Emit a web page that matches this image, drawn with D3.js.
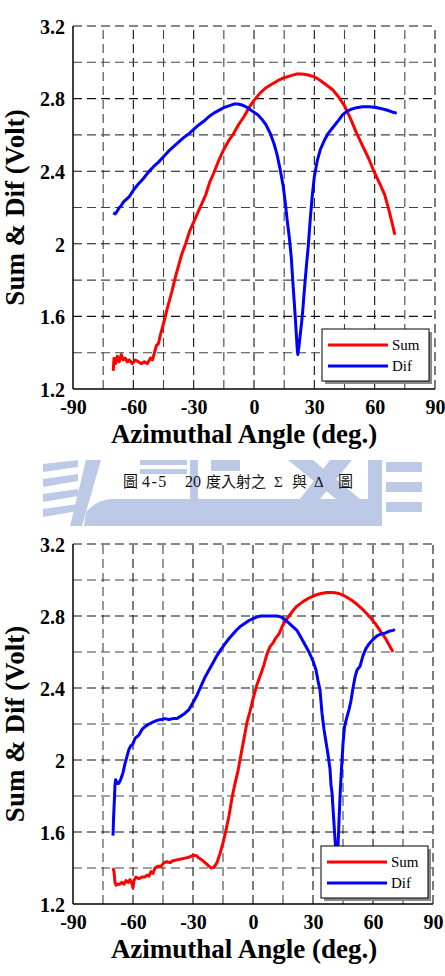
<!DOCTYPE html>
<html>
<head>
  <meta charset="utf-8">
  <title>Sum & Dif vs Azimuthal Angle</title>
  <script src="https://d3js.org/d3.v7.min.js"></script>
  <style>
    body { margin: 0; background: #fff; }
    svg { display: block; }
    .tick-label { font-family: "Liberation Serif", "Times New Roman", serif; font-weight: bold; font-size: 20px; fill: #000; }
    .axis-title { font-family: "Liberation Serif", "Times New Roman", serif; font-weight: bold; font-size: 27px; fill: #000; }
    .legend-text { font-family: "Liberation Serif", "Times New Roman", serif; font-size: 15px; fill: #000; }
    .caption { font-family: "Liberation Serif", "Noto Sans CJK TC", serif; font-size: 15px; fill: #111; }
  </style>
</head>
<body>
<div id="chart"></div>
<script>
  // axis ticks and grid positions
  var angleTicks = [-90, -60, -30, 0, 30, 60, 90];
  var angleMinor = [-75, -45, -15, 15, 45, 75];
  var voltTicks = [1.2, 1.6, 2, 2.4, 2.8, 3.2];
  var voltMinor = [1.4, 1.8, 2.2, 2.6, 3.0];
  var seriesNames = ["Sum", "Dif"];
  var seriesColors = ["#ff0000", "#0000ff"];
  var captionParts = ["圖", "4-5", "20", "度入射之", "Σ", "與", "Δ", "圖"];

  // upper chart (20 deg incidence), [angle, volt]
  var sumA = [[-70,1.30],[-69.6,1.37],[-68.8,1.34],[-68,1.38],[-67,1.35],[-66,1.39],[-65,1.36],[-64,1.37],[-63,1.35],
    [-62,1.36],[-60.5,1.34],[-59,1.36],[-57.5,1.35],[-56,1.34],[-54.5,1.35],[-53,1.34],[-51.5,1.37],[-50.5,1.36],
    [-49.5,1.40],[-48.5,1.44],[-47.5,1.45],[-46.5,1.50],[-45,1.56],[-43,1.65],[-41,1.73],[-39,1.82],[-37.5,1.88],
    [-36,1.94],[-34,2.00],[-32,2.07],[-30,2.12],[-28,2.17],[-26,2.22],[-24,2.27],[-22,2.34],[-20,2.39],[-17.5,2.46],
    [-15,2.52],[-12.5,2.57],[-10,2.61],[-7.5,2.66],[-5,2.70],[-2.5,2.75],[0,2.79],[3,2.83],[6,2.86],[9,2.88],
    [12,2.90],[15,2.915],[18,2.925],[21,2.935],[24,2.935],[27,2.93],[30,2.92],[33,2.90],[36,2.875],[39,2.85],
    [42,2.81],[45,2.76],[48,2.69],[51,2.61],[54,2.54],[57,2.47],[60,2.39],[63,2.32],[65,2.27],[67,2.19],[69,2.10],[70,2.05]];
  var difA = [[-70,2.17],[-69,2.165],[-68,2.18],[-67,2.20],[-66,2.21],[-65,2.23],[-63.5,2.245],[-62,2.26],[-60,2.295],
    [-57.5,2.33],[-55,2.36],[-52.5,2.395],[-50,2.425],[-47.5,2.45],[-45,2.48],[-42.5,2.51],[-40,2.535],[-37.5,2.56],
    [-35,2.585],[-32.5,2.605],[-30,2.63],[-27.5,2.655],[-25,2.675],[-22.5,2.70],[-20,2.72],[-17.5,2.735],[-15,2.75],
    [-12.5,2.76],[-10,2.77],[-8,2.77],[-6,2.765],[-4,2.755],[-2,2.74],[0,2.725],[2,2.71],[4,2.685],[6,2.655],[8,2.61],
    [10,2.55],[11.5,2.49],[13,2.41],[14.5,2.32],[15.5,2.23],[16.5,2.13],[17.5,2.04],[18.5,1.93],[19.5,1.76],[20.5,1.60],
    [21.5,1.42],[21.8,1.39],[22.3,1.43],[23,1.50],[23.7,1.57],[24.3,1.64],[25,1.74],[26,1.87],[27,1.99],[28,2.14],
    [29,2.27],[30,2.37],[31.5,2.46],[33,2.52],[35,2.57],[37,2.61],[39.5,2.645],[42,2.68],[44,2.71],[46,2.728],[48,2.74],
    [51,2.75],[54,2.755],[57,2.755],[60,2.752],[63,2.745],[66,2.737],[69,2.725],[71,2.72]];

  // lower chart
  var sumB = [[-70,1.40],[-69.5,1.38],[-69,1.32],[-68.5,1.305],[-67.5,1.31],[-66.5,1.31],[-65.5,1.32],[-64.5,1.31],
    [-63.5,1.33],[-62.5,1.32],[-61.5,1.335],[-60.5,1.31],[-60,1.29],[-59.5,1.33],[-58.5,1.35],[-57,1.34],[-55.5,1.35],
    [-54,1.35],[-53,1.36],[-52,1.355],[-51,1.38],[-50,1.37],[-49,1.40],[-47.5,1.41],[-46,1.41],[-44.5,1.43],[-43,1.435],
    [-41.5,1.43],[-40,1.44],[-38,1.445],[-36,1.45],[-34,1.455],[-32,1.46],[-30,1.47],[-28.5,1.47],[-27,1.455],[-25,1.44],
    [-23,1.42],[-21,1.40],[-19.5,1.405],[-18,1.43],[-16.5,1.48],[-15,1.54],[-13.5,1.61],[-12,1.69],[-10.5,1.79],[-9,1.87],
    [-7.5,1.94],[-6,2.03],[-4.5,2.12],[-3,2.21],[-1.5,2.27],[0,2.34],[2,2.42],[4,2.48],[5.5,2.53],[7,2.59],[8.5,2.63],
    [10,2.65],[11.5,2.68],[13,2.70],[14.5,2.74],[16,2.77],[18,2.80],[20,2.83],[22,2.855],[25,2.88],[28,2.90],[31,2.915],
    [34,2.925],[37,2.93],[40,2.93],[43,2.925],[46,2.91],[49,2.89],[52,2.865],[55,2.835],[58,2.80],[61,2.76],[64,2.71],
    [66,2.68],[68,2.64],[70,2.60]];
  var difB = [[-70,1.58],[-69.7,1.68],[-69.3,1.78],[-69,1.86],[-68.7,1.89],[-68,1.87],[-67.2,1.87],[-66.2,1.89],[-65,1.93],
    [-64,1.98],[-63,2.02],[-62,2.06],[-61,2.08],[-60,2.09],[-59,2.12],[-58,2.13],[-57,2.14],[-55.5,2.17],[-54,2.185],
    [-52,2.20],[-50,2.21],[-48,2.22],[-46,2.225],[-44,2.23],[-42,2.225],[-40,2.23],[-38,2.23],[-36,2.245],[-34,2.26],
    [-32,2.28],[-30,2.32],[-28,2.36],[-26,2.41],[-24,2.46],[-22,2.50],[-20,2.54],[-18,2.58],[-16,2.615],[-14,2.645],
    [-12,2.675],[-10,2.70],[-8,2.725],[-6,2.745],[-4,2.76],[-2,2.775],[0,2.785],[2,2.795],[4,2.80],[6,2.80],[8,2.80],
    [10,2.80],[12,2.80],[14,2.795],[16,2.78],[18,2.76],[20,2.74],[22,2.72],[24,2.68],[26,2.64],[28,2.60],[30,2.55],
    [31.5,2.50],[32.5,2.44],[33.5,2.39],[34.5,2.26],[35.5,2.17],[36.5,2.10],[37.5,2.03],[38.5,1.95],[39,1.86],[39.5,1.82],
    [40.3,1.68],[41,1.56],[41.8,1.44],[42.5,1.52],[43,1.66],[43.6,1.82],[44.3,1.96],[45,2.09],[45.7,2.18],[46.3,2.21],
    [47,2.24],[48,2.28],[49,2.33],[50,2.40],[51,2.46],[52,2.50],[53.5,2.52],[55,2.58],[56.5,2.62],[58,2.645],[60,2.67],
    [62,2.69],[64,2.70],[66,2.705],[68,2.715],[70,2.72],[71,2.725]];

  var W = 445, H = 976;
  var svg = d3.select("#chart").append("svg").attr("width", W).attr("height", H);

  // faint school-logo watermark behind the caption
  var wm = svg.append("g").attr("fill", "#bccae8");
  var wmShapes = [
    "M43,464 L78,460 L78,467 L43,472 Z",
    "M43,479 L78,474 L78,481 L43,487 Z",
    "M43,494 L78,489 L78,496 L43,502 Z",
    "M43,509 L78,504 L78,511 L43,517 Z",
    "M70,526 L82,526 L101,460 L86,460 Z",
    "M84,526 L86,512 Q98,499 112,499 L372,499 L372,526 Z",
    "M140,460 L187,460 L187,465 L140,465 Z",
    "M140,469 L187,469 L187,474 L140,474 Z",
    "M190,460 L198,460 L198,499 L190,499 Z",
    "M211,460 L240,460 L240,471 L211,471 Z",
    "M288,460 L313,460 L360,499 L336,499 Z",
    "M330,460 L352,460 L320,499 L300,499 Z",
    "M368,460 L382,460 L382,526 L368,526 Z",
    "M386,462 L422,462 L422,472 L386,472 Z",
    "M386,482 L422,482 L422,492 L386,492 Z",
    "M386,502 L422,502 L422,512 L386,512 Z"
  ];
  wm.selectAll("path").data(wmShapes).enter().append("path").attr("d", function(d) { return d; });

  var charts = [
    { sum: sumA, dif: difA, left: 73, right: 435, top: 26, bottom: 389, titleY: 443, legX: 322, legY: 329 },
    { sum: sumB, dif: difB, left: 73, right: 433, top: 544, bottom: 904, titleY: 958, legX: 321, legY: 846 }
  ];

  charts.forEach(function(c) {
    var x = d3.scaleLinear().domain([-90, 90]).range([c.left, c.right]);
    var y = d3.scaleLinear().domain([1.2, 3.2]).range([c.bottom, c.top]);
    var g = svg.append("g");

    // dashed grid: verticals drawn bottom-up, horizontals left-right
    var vx = angleTicks.concat(angleMinor).filter(function(d) { return d > -90; });
    g.selectAll(".vgrid").data(vx).enter().append("line")
      .attr("x1", function(d) { return x(d); }).attr("x2", function(d) { return x(d); })
      .attr("y1", c.bottom).attr("y2", c.top)
      .attr("stroke", function(d) { return angleTicks.indexOf(d) >= 0 ? "#111" : "#444"; })
      .attr("stroke-width", 1.1)
      .attr("stroke-dasharray", "9,5");
    var hy = voltTicks.concat(voltMinor).filter(function(d) { return d > 1.2; });
    g.selectAll(".hgrid").data(hy).enter().append("line")
      .attr("x1", c.left).attr("x2", c.right)
      .attr("y1", function(d) { return y(d); }).attr("y2", function(d) { return y(d); })
      .attr("stroke", function(d) { return voltTicks.indexOf(d) >= 0 ? "#111" : "#444"; })
      .attr("stroke-width", 1.1)
      .attr("stroke-dasharray", "9,5");

    // solid left and bottom axes
    g.append("line").attr("x1", c.left).attr("x2", c.left).attr("y1", c.top).attr("y2", c.bottom)
      .attr("stroke", "#000").attr("stroke-width", 1.5);
    g.append("line").attr("x1", c.left).attr("x2", c.right).attr("y1", c.bottom).attr("y2", c.bottom)
      .attr("stroke", "#000").attr("stroke-width", 1.5);

    // tick labels through d3 axes (plain hyphen for negatives)
    var fmt = function(d) { return String(d); };
    var xAxis = g.append("g").attr("transform", "translate(0," + c.bottom + ")")
      .call(d3.axisBottom(x).tickValues(angleTicks).tickSize(0).tickPadding(0).tickFormat(fmt));
    xAxis.select(".domain").remove();
    xAxis.selectAll("text").attr("class", "tick-label").attr("dy", null).attr("y", 25);

    var yAxis = g.append("g").attr("transform", "translate(" + c.left + ",0)")
      .call(d3.axisLeft(y).tickValues(voltTicks).tickSize(0).tickPadding(0).tickFormat(fmt));
    yAxis.select(".domain").remove();
    yAxis.selectAll("text").attr("class", "tick-label").attr("x", -8).attr("dy", "0.36em");

    // axis titles
    g.append("text").attr("class", "axis-title").attr("text-anchor", "middle")
      .attr("x", 244).attr("y", c.titleY).text("Azimuthal Angle (deg.)");
    g.append("text").attr("class", "axis-title").attr("text-anchor", "middle")
      .attr("transform", "translate(24," + ((c.top + c.bottom) / 2) + ") rotate(-90)")
      .text("Sum & Dif (Volt)");

    // curves
    var line = d3.line().x(function(d) { return x(d[0]); }).y(function(d) { return y(d[1]); });
    [c.sum, c.dif].forEach(function(s, i) {
      g.append("path").datum(s).attr("d", line)
        .attr("fill", "none").attr("stroke", seriesColors[i])
        .attr("stroke-width", 3).attr("stroke-linejoin", "round");
    });

    // legend box with drop shadow
    var lg = g.append("g").attr("transform", "translate(" + c.legX + "," + c.legY + ")");
    lg.append("rect").attr("x", 3).attr("y", 3).attr("width", 107).attr("height", 52).attr("fill", "#8a8a8a");
    lg.append("rect").attr("width", 107).attr("height", 52).attr("fill", "#fff")
      .attr("stroke", "#000").attr("stroke-width", 1);
    seriesNames.forEach(function(n, i) {
      lg.append("line").attr("x1", 6).attr("x2", 66).attr("y1", 16 + i * 21).attr("y2", 16 + i * 21)
        .attr("stroke", seriesColors[i]).attr("stroke-width", 3);
      lg.append("text").attr("class", "legend-text").attr("x", 70).attr("y", 21 + i * 21).text(n);
    });
  });

  // caption under the first chart, pieces spaced like the original
  var capX = [123, 142, 185, 206, 274, 292, 314, 338];
  svg.append("text").attr("class", "caption").attr("y", 487)
    .selectAll("tspan").data(captionParts).enter().append("tspan")
    .attr("x", function(d, i) { return capX[i]; })
    .attr("font-size", function(d) { return /[0-9]/.test(d) ? "16px" : null; })
    .attr("letter-spacing", function(d) { return d === "4-5" ? "1.5px" : null; })
    .text(function(d) { return d; });
</script>
</body>
</html>
